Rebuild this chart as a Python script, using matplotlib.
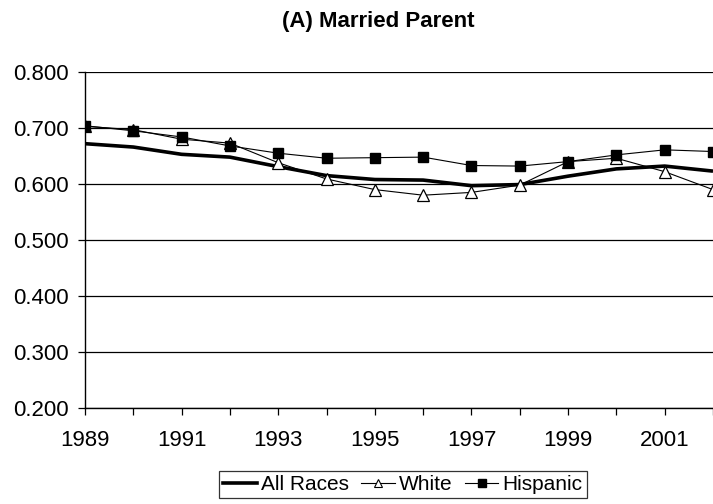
import matplotlib
matplotlib.use("Agg")
import matplotlib.pyplot as plt
from matplotlib.lines import Line2D

plt.rcParams['font.family'] = ['Liberation Sans', 'DejaVu Sans']

years = list(range(1989, 2003))
all_races = [0.672, 0.666, 0.653, 0.648, 0.631, 0.615, 0.608, 0.607, 0.597, 0.599, 0.614, 0.627, 0.632, 0.623]
white = [0.703, 0.697, 0.680, 0.673, 0.638, 0.609, 0.590, 0.580, 0.585, 0.598, 0.640, 0.646, 0.622, 0.590]
hispanic = [0.704, 0.695, 0.684, 0.668, 0.655, 0.646, 0.647, 0.648, 0.633, 0.632, 0.640, 0.652, 0.661, 0.658]
year_labels = [1989, 1991, 1993, 1995, 1997, 1999, 2001]
y_ticks = [0.2, 0.3, 0.4, 0.5, 0.6, 0.7, 0.8]

fig = plt.figure(figsize=(7.13, 5.04), dpi=100)
ax = fig.add_axes([85 / 713, 96 / 504, 1 - 85 / 713, (408 - 72) / 504])

for yv in y_ticks:
    ax.axhline(yv, color='black', lw=0.9, zorder=1)

ax.plot(years, all_races, color='black', lw=2.6, zorder=3, solid_capstyle='butt')
ax.plot(years, white, color='black', lw=0.8, marker='^', markersize=8.5,
        markerfacecolor='white', markeredgecolor='black', markeredgewidth=0.9, zorder=4)
ax.plot(years, hispanic, color='black', lw=0.8, marker='s', markersize=7.5,
        markerfacecolor='black', markeredgecolor='black', zorder=5)

ax.set_xlim(1989, 2001 + 40 / 49)
ax.set_ylim(0.2, 0.8)
ax.set_yticks(y_ticks)
ax.set_yticklabels([f"{v:.3f}" for v in y_ticks])
ax.set_xticks(years, minor=False)
ax.set_xticklabels([str(y) if y in year_labels else '' for y in years])

for side in ['top', 'right']:
    ax.spines[side].set_visible(False)
for side in ['left', 'bottom']:
    ax.spines[side].set_color('black')
    ax.spines[side].set_linewidth(1.0)
ax.tick_params(axis='both', direction='out', length=5, width=0.9, colors='black',
               labelsize=16)
ax.tick_params(axis='y', pad=7)
ax.tick_params(axis='x', pad=11)

fig.text(378 / 713, 1 - 21 / 504, "(A) Married Parent", ha='center', va='center',
         fontsize=16, fontweight='bold')

handles = [
    Line2D([], [], color='black', lw=2.6),
    Line2D([], [], color='black', lw=0.8, marker='^', markersize=6,
           markerfacecolor='white', markeredgecolor='black', markeredgewidth=0.8),
    Line2D([], [], color='black', lw=0.8, marker='s', markersize=5.5,
           markerfacecolor='black'),
]
leg = fig.legend(handles, ["All Races", "White", "Hispanic"], loc='center',
                 bbox_to_anchor=(403 / 713, 1 - 484.5 / 504), ncol=3,
                 fontsize=15, frameon=True, fancybox=False, borderpad=0.2,
                 handlelength=1.6, handletextpad=0.2, columnspacing=0.6,
                 borderaxespad=0)
leg.get_frame().set_edgecolor('black')
leg.get_frame().set_linewidth(0.9)

fig.savefig("out.png", dpi=100)
